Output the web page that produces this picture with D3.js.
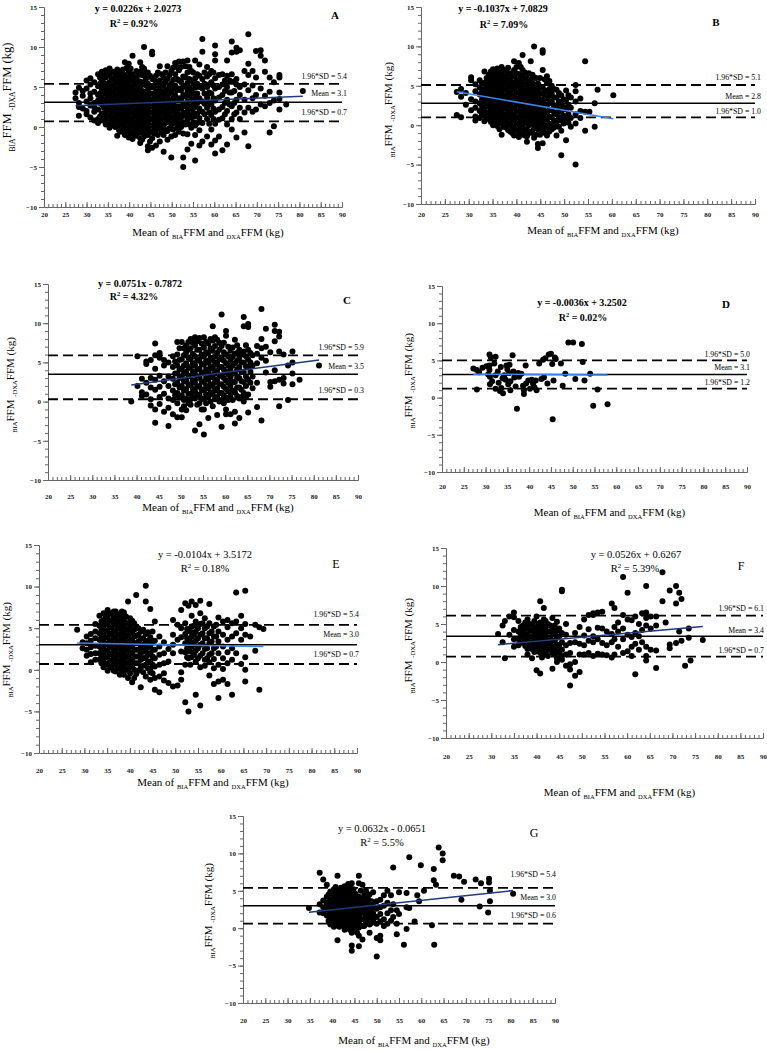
<!DOCTYPE html>
<html>
<head>
<meta charset="utf-8">
<script src="https://cdn.jsdelivr.net/npm/d3@7"></script>
<style>
  body { margin: 0; background: #fff; }
  svg { display: block; }
  text { font-family: "Liberation Serif", "Times New Roman", serif; }
</style>
</head>
<body>
<svg id="chart" width="767" height="1051"></svg>
<script>
// ---- data ----
let panelIds = ['A', 'B', 'C', 'D', 'E', 'F', 'G']
let slopes = [0.0226, -0.1037, 0.0751, -0.0036, -0.0104, 0.0526, 0.0632]
let intercepts = [2.0273, 7.0829, -0.7872, 3.2502, 3.5172, 0.6267, -0.0651]
let r2Labels = ['0.92%', '7.09%', '4.32%', '0.02%', '0.18%', '5.39%', '5.5%']
let meanDiff = [3.1, 2.8, 3.5, 3.1, 3.0, 3.4, 3.0]
let upperLoA = [5.4, 5.1, 5.9, 5.0, 5.4, 6.1, 5.4]
let lowerLoA = [0.7, 1.0, 0.3, 1.2, 0.7, 0.7, 0.6]
let xTickVals = [20, 25, 30, 35, 40, 45, 50, 55, 60, 65, 70, 75, 80, 85, 90]
let yTickVals = [-10, -5, 0, 5, 10, 15]

// points as [mean, [differences...]]
let colsA = [[27.4,[4.3,3.6]],[28.2,[4.9,1.4,3.0,2.5]],[29.1,[4.5,3.9,2.3]],[30.0,[5.8,3.2,2.0,4.8,1.6]],
[30.9,[6.1,5.3,3.6,2.7,1.2,4.2]],[31.8,[5.6,4.4,3.0,1.9,0.8,2.5]],[32.7,[6.6,5.1,4.0,3.3,2.2,1.0,0.5]],
[33.6,[6.9,5.8,4.6,3.7,2.8,1.7,0.8,5.2]],[34.5,[7.1,6.2,5.0,4.2,3.4,2.6,1.8,1.0,0.3]],
[35.4,[7.3,6.5,5.6,4.8,4.0,3.1,2.3,1.4,0.6,-0.1]],[36.3,[6.9,6.0,5.2,4.4,3.6,2.8,2.0,1.2,0.4]],
[37.2,[7.2,6.4,5.6,4.8,4.0,3.2,2.4,1.6,0.8,0.0,-1.1]],[38.1,[6.7,5.9,5.1,4.3,3.5,2.7,1.9,1.1,0.3,-0.6]],
[39.0,[8.1,6.5,5.7,4.9,4.1,3.3,2.5,1.7,0.9,0.1,-1.0]],[39.9,[7.9,7.0,6.2,5.4,4.6,3.8,3.0,2.2,1.4,0.6,-0.2,-1.3]],
[40.8,[8.9,6.6,5.8,5.0,4.2,3.4,2.6,1.8,1.0,0.2,-0.6,-1.5]],[41.7,[7.0,6.1,5.3,4.5,3.7,2.9,2.1,1.3,0.5,-0.3,-1.1]],
[42.6,[8.1,6.9,5.7,4.9,4.1,3.3,2.5,1.7,0.9,0.1,-0.7,-1.4,-2.0]],[43.5,[10.0,7.3,6.4,5.6,4.4,3.6,2.8,2.0,1.2,0.4,-0.4,-1.2]],
[44.4,[6.8,5.4,4.6,3.8,3.0,2.2,1.4,0.6,-0.2,-1.0,-2.9,-2.4]],[45.4,[9.4,9.1,6.0,5.0,4.2,3.4,2.6,1.8,1.0,0.2,-0.6,-1.4,-2.6]],
[46.3,[6.4,5.5,4.4,3.6,2.8,2.0,1.2,0.4,-0.4,-2.3]],[47.2,[7.6,5.8,4.8,3.9,3.0,2.2,1.4,0.6,-0.2,-1.8]],
[48.1,[6.2,5.2,4.2,3.4,2.6,1.8,0.9,0.0,-1.0,-3.1]],[49.0,[7.6,6.0,4.6,3.8,2.9,2.0,1.1,-0.5,-1.6]],
[49.9,[7.0,5.4,4.3,3.2,2.3,1.2,0.3,-1.2,-3.8]],[50.8,[8.0,6.6,5.2,4.0,2.6,1.5,0.5,-1.0]],
[51.7,[8.2,7.1,5.8,4.8,3.6,2.6,1.5,0.5,-0.6]],[52.7,[8.2,6.3,5.1,4.0,2.9,1.8,0.6,-0.8,-3.8,-5.0]],
[53.7,[8.3,6.8,5.5,4.4,3.2,2.0,0.9,-0.9,-2.8]],[54.6,[7.0,5.8,4.6,3.4,2.3,1.2,-0.1,-2.1]],
[55.5,[8.3,6.1,4.9,3.7,2.5,1.3,0.2,-1.0,-4.2]],[56.5,[7.8,6.4,5.0,3.6,2.3,1.1,-0.4,-2.3]],
[57.2,[11.0,9.4,6.0,4.8,3.2,1.9,0.5,-1.8]],[58.3,[7.5,6.3,5.0,3.7,2.4,1.0,-1.2]],
[59.3,[7.0,5.6,4.2,2.8,1.5,-0.3,-2.2]],[60.2,[10.2,9.1,8.3,6.1,4.8,3.3,1.9,0.4,-1.7,-3.3]],
[61.1,[6.5,5.0,3.7,2.2,0.9,-1.2]],[61.9,[6.6,5.3,4.0,2.5,1.1,-2.9]],[63.0,[8.3,6.4,5.0,3.4,2.0,0.3,-2.2]],
[64.1,[10.7,9.3,6.6,4.3,2.6,1.0,-0.3]],[65.2,[9.9,9.4,6.0,5.3,3.4,1.8,-1.3]],[66.0,[9.6,5.0,4.0,2.4,1.0]],
[67.1,[7.0,5.3,3.4,1.8,-0.7]],[68.0,[11.6,7.9,6.5,4.6,2.4,-2.4]],[69.0,[7.0,5.2,3.6,1.9]],
[69.8,[9.5,6.2,4.0,2.2]],[70.9,[9.6,8.9,4.8,2.8]],[71.9,[8.3,6.9,3.9,2.6]],[73.0,[6.2,4.4,3.0,-0.7]],
[74.0,[5.6,3.3,0.1]],[75.3,[6.5,6.2,4.3,3.5,2.2]],[76.9,[2.8]],[80.8,[4.5]]]
let fillA = [[33.15,[6.2,5.4,4.2,3.0,1.3]],[34.05,[6.5,5.5,4.5,3.3,2.4,1.2]],[34.95,[6.6,5.4,4.6,3.8,3.0,2.2,1.4,0.6]],
[35.85,[6.9,6.1,5.2,4.4,3.6,2.7,1.9,1.0,0.2]],[36.75,[6.6,5.6,4.8,4.0,3.2,2.4,1.6,0.8,0.0]],
[37.65,[6.8,6.0,5.2,4.4,3.6,2.8,2.0,1.2,0.4,-0.4]],[38.55,[7.2,6.3,5.5,4.7,3.9,3.1,2.3,1.5,0.7,-0.2]],
[39.45,[7.4,6.1,5.3,4.5,3.7,2.9,2.1,1.3,0.5,-0.6]],[40.35,[7.3,6.6,5.8,5.0,4.2,3.4,2.6,1.8,1.0,0.2,-0.8]],
[41.25,[6.2,5.4,4.6,3.8,3.0,2.2,1.4,0.6,-0.2,-1.0]],[42.15,[6.5,5.7,4.9,4.1,3.3,2.5,1.7,0.9,0.1,-0.7]],
[43.05,[7.5,6.5,5.3,4.5,3.7,2.9,2.1,1.3,0.5,-0.3,-1.6]],[43.95,[6.8,6.0,5.2,4.0,3.2,2.4,1.6,0.8,0.0,-0.8]],
[44.9,[6.4,5.0,4.2,3.4,2.6,1.8,1.0,0.2,-0.6,-1.8]],[45.85,[5.9,5.0,4.0,3.2,2.4,1.6,0.8,0.0,-0.8]],
[46.75,[6.8,5.2,4.4,3.4,2.6,1.8,1.0,0.2,-1.0]],[47.65,[6.6,5.4,4.4,3.6,2.6,1.8,1.0,0.2,-0.6]],
[48.55,[6.8,5.6,4.6,3.8,3.0,2.2,1.4,0.5,-0.4]],[49.45,[6.5,5.0,4.2,3.4,2.5,1.6,0.7,-0.2]],
[50.35,[7.4,5.9,4.8,3.6,2.9,2.0,0.9,-0.3]],[51.25,[7.5,6.0,4.6,3.3,2.0,1.0,-0.1]],
[52.2,[7.5,5.7,4.6,3.4,2.3,1.2,0.0]],[53.2,[7.6,6.2,5.0,3.8,2.6,1.4,0.3]],[54.15,[7.5,6.0,4.9,3.9,2.6,1.5,0.3]],
[55.05,[6.8,5.4,4.2,3.0,1.8,0.6]],[56.0,[6.6,5.4,4.2,3.0,1.7,0.5]],[57.7,[6.8,5.4,4.2,2.9,1.6]],
[58.8,[6.6,5.3,4.3,3.1,1.8,0.4]],[59.8,[6.8,5.2,3.6,2.3,1.0]],[62.5,[5.8,4.5,3.0,1.6]],
[63.6,[5.8,4.3,2.8]],[64.7,[5.7,4.5,3.0,1.6]]]

let colsB = [[27.5,[4.2,1.3]],[28.4,[4.6,3.6,1.0]],[29.4,[4.1,2.6]],[30.5,[6.1,5.7,3.3,1.9]],
[31.4,[5.2,4.3,3.0,2.2,1.1,0.6]],[32.3,[5.7,4.8,3.9,2.8,1.8,0.9]],[33.3,[6.8,5.4,4.6,3.7,2.9,2.0,1.2,0.5]],
[34.2,[6.4,5.6,4.8,4.0,3.2,2.4,1.6,0.8]],[35.1,[7.1,6.3,5.5,4.7,3.9,3.1,2.3,1.5,0.7,0.0]],
[36.0,[7.2,6.5,5.7,4.9,4.1,3.3,2.5,1.7,0.9,-0.1]],[36.9,[7.4,6.6,5.8,5.0,4.2,3.4,2.6,1.8,1.0,0.2,-1.2]],
[37.8,[6.9,6.1,5.3,4.5,3.7,2.9,2.1,1.3,0.5,-0.3]],[38.7,[6.6,5.8,5.0,4.2,3.4,2.6,1.8,1.0,0.2,-0.8]],
[39.5,[8.1,7.0,6.2,5.4,4.6,3.8,3.0,2.2,1.4,0.6,-0.4,-1.3]],[40.5,[7.9,6.5,5.7,4.9,4.1,3.3,2.5,1.7,0.9,0.1,-0.9,-1.5]],
[41.3,[8.9,7.0,6.3,5.5,4.7,3.9,3.1,2.3,1.5,0.7,-0.1,-1.0]],[42.2,[6.0,5.2,4.4,3.6,2.8,2.0,1.2,0.4,-0.6,-1.4,-2.1]],
[43.0,[8.1,5.8,5.0,4.2,3.4,2.6,1.8,1.0,0.2,-0.8]],[43.7,[10.0,6.1,4.6,3.8,3.0,2.2,1.4,0.6,-0.4,-1.6]],
[44.5,[5.3,4.5,3.7,2.9,2.1,1.3,0.5,-0.5,-2.4,-2.9]],[45.5,[9.5,9.2,7.0,4.8,4.0,3.1,2.2,1.3,0.4,-0.6,-2.3]],
[46.4,[6.2,5.4,4.3,3.4,2.5,1.6,0.7,-0.3,-1.3]],[47.4,[5.0,4.0,3.0,2.0,1.0,0.0,-0.5]],
[48.4,[4.5,3.5,2.4,1.4,0.3,-1.3]],[49.4,[3.8,2.7,1.7,0.6,-0.7,-3.8]],[50.4,[4.4,3.2,2.0,0.8,-1.9]],
[51.4,[3.5,2.2,0.9,-0.2]],[52.4,[5.1,4.3,3.0,1.4,0.2,-5.0]],[53.4,[3.4,1.8,0.9]],[54.4,[8.1,1.7,-0.7]],
[55.3,[1.7]],[56.4,[2.8,-0.2]],[57.0,[4.5]],[60.3,[3.8]]]
let fillB = [[32.8,[5.3,4.3,3.3,2.3,1.4]],[33.75,[6.0,5.0,4.2,3.3,2.5,1.6,0.9]],[34.65,[6.8,6.0,5.2,4.4,3.6,2.8,2.0,1.2,0.4]],
[35.55,[6.7,5.9,5.1,4.3,3.5,2.7,1.9,1.1,0.3]],[36.45,[6.9,6.1,5.3,4.5,3.7,2.9,2.1,1.3,0.5,-0.5]],
[37.35,[7.0,6.2,5.4,4.6,3.8,3.0,2.2,1.4,0.6,-0.2]],[38.25,[7.3,6.5,5.7,4.9,4.1,3.3,2.5,1.7,0.9,0.1,-0.6]],
[39.1,[6.2,5.4,4.6,3.8,3.0,2.2,1.4,0.6,-0.2,-1.0]],[40.0,[7.4,6.6,5.8,5.0,4.2,3.4,2.6,1.8,1.0,0.2,-0.6]],
[40.9,[7.4,6.1,5.3,4.5,3.7,2.9,2.1,1.3,0.5,-0.3,-1.2]],[41.75,[6.7,5.9,5.1,4.3,3.5,2.7,1.9,1.1,0.3,-0.5,-1.3]],
[42.6,[6.6,5.6,4.8,4.0,3.2,2.4,1.6,0.8,0.0,-1.0]],[43.35,[6.4,5.4,4.6,3.4,2.6,1.8,1.0,0.2,-1.0]],
[44.1,[6.0,5.0,4.2,3.4,2.6,1.8,1.0,0.0,-1.2]],[44.95,[6.0,4.9,4.1,3.3,2.5,1.7,0.9,0.0,-1.2]],
[45.95,[5.8,4.4,3.6,2.7,1.8,0.9,0.0,-1.0]],[46.9,[5.6,4.6,3.7,2.8,1.9,1.1,0.2,-0.8]],
[47.9,[4.6,3.5,2.5,1.6,0.6,-0.3]],[48.9,[4.1,3.0,2.0,1.0,-0.2]],[49.9,[3.3,2.3,1.2,0.2]],[50.9,[3.8,2.6,1.4,0.3]]]

let colsC = [[38.8,[0.0]],[40.2,[5.8,2.0]],[41.2,[2.9,1.2,0.7]],[42.2,[5.1,4.8,2.4,0.9]],[43.2,[5.3,3.0,1.8,0.3,-0.5]],
[44.2,[7.4,5.9,4.2,2.8,1.5,-1.0,-2.7]],[45.2,[6.2,5.6,3.3,1.9,0.6,-0.3]],[46.2,[5.3,4.6,2.6,1.0,-1.3]],
[47.2,[5.0,3.2,2.0,0.4,-0.8,-3.1]],[48.2,[5.8,4.4,2.9,1.4,0.2,-1.6]],[49.2,[7.6,6.0,4.6,3.6,2.4,1.1,-0.2,-2.0]],
[50.2,[7.6,5.4,4.2,3.1,2.0,0.8,-1.0,-2.0]],[51.2,[7.2,6.3,4.9,3.8,2.7,1.6,0.4,-1.1]],
[52.2,[8.0,6.8,5.4,4.3,3.2,2.1,1.0,0.3,-0.4]],[53.2,[8.2,7.2,5.8,4.6,3.5,2.4,1.3,0.4,-3.7]],
[54.2,[8.1,6.6,5.4,4.2,3.1,2.0,0.9,-0.2,-2.9]],[55.2,[8.2,6.9,5.8,4.7,3.6,2.5,1.4,0.3,-1.0,-4.2]],
[56.2,[7.4,6.2,5.0,3.9,2.8,1.7,0.6,-2.1]],[57.2,[9.6,7.8,6.5,5.3,4.2,3.1,2.0,0.9,-0.6]],
[58.2,[7.9,6.2,5.0,3.9,2.8,1.7,0.6,-1.7]],[59.2,[11.1,7.1,5.6,4.4,3.3,2.2,1.1,0.2,-3.2]],
[60.2,[9.0,8.4,6.0,4.9,3.8,2.7,1.6,0.5,-1.0,-1.6]],[61.2,[6.5,5.3,4.2,3.1,2.0,0.7,-1.6]],
[62.2,[7.9,6.1,4.9,3.6,2.5,1.2,-1.3,-2.8]],[63.2,[6.6,5.6,4.4,3.0,1.8,0.4,-2.1]],
[64.2,[10.8,9.6,6.4,5.0,3.8,2.5,1.1,0.0]],[65.2,[9.9,9.5,6.6,5.4,4.4,2.8,0.9,-1.4]],[66.2,[5.9,4.6,3.2,1.7]],
[67.2,[7.1,6.1,4.9,2.4,-0.7]],[68.2,[11.8,8.0,6.8,5.6,-2.4]],[69.2,[9.3,7.0,5.2,3.7]],[70.2,[6.3,2.5,1.9]],
[71.2,[9.8,9.0,7.7,4.0,2.6]],[72.2,[8.9,8.3,6.4,2.8,-0.6]],[73.2,[6.0,3.0,2.3]],[74.2,[4.6,0.2]],
[75.2,[6.4,5.0,3.6,2.2]],[76.8,[2.8]],[81.2,[4.6]]]
let fillC = [[48.7,[5.1,3.6,2.2,0.8]],[49.7,[6.8,5.3,4.1,3.0,1.8,0.5]],[50.7,[6.8,5.9,4.6,3.6,2.6,1.4,0.2,-0.6]],
[51.7,[7.6,6.6,5.6,4.4,3.3,2.2,1.0,-0.2]],[52.7,[7.5,6.1,4.9,3.8,2.7,1.6,0.6]],
[53.7,[7.7,6.6,5.2,4.1,3.0,1.9,0.8,-0.4]],[54.7,[7.4,6.0,4.8,3.7,2.6,1.5,0.4,-1.0]],
[55.7,[7.6,6.3,5.2,4.1,3.0,2.0,0.9,-0.2]],[56.7,[8.0,6.8,5.6,4.5,3.4,2.2,1.2,0.0]],
[57.7,[8.2,7.1,5.8,4.7,3.6,2.5,1.4,0.3]],[58.7,[7.5,6.6,5.4,4.4,3.3,2.2,1.1,0.0]],
[59.7,[7.5,6.3,5.2,4.1,3.0,1.9,0.8,-0.2]],[60.7,[7.0,5.8,4.6,3.5,2.4,1.3,0.2]],
[61.7,[6.9,5.7,4.6,3.6,2.5,1.4,0.2]],[62.7,[7.2,6.2,5.2,4.1,3.0,1.8,0.7]],[63.7,[6.0,5.0,3.8,2.6,1.5,0.6]],
[64.7,[7.2,5.8,4.5,3.2,2.0,0.6]],[65.7,[6.2,5.0,3.8,2.4]]]

let colsD = [[27.2,[3.9]],[28.0,[3.7,1.1]],[28.5,[3.4]],[29.3,[4.0]],[30.2,[4.2]],[30.6,[3.1]],[30.9,[5.8,4.3,3.7]],
[31.0,[2.8,1.8]],[31.2,[5.4]],[31.5,[2.2]],[32.0,[4.6]],[32.3,[5.5,3.0,1.2]],[32.8,[3.5]],[33.0,[2.0]],
[33.3,[0.9]],[33.5,[4.1]],[33.6,[1.3]],[33.9,[2.6]],[34.0,[0.6]],[34.3,[3.0]],[34.6,[2.4]],[34.8,[4.3]],
[35.0,[3.8]],[35.2,[1.8]],[35.4,[3.3]],[35.5,[4.4]],[35.7,[2.2,1.0]],[36.2,[5.7]],[36.4,[3.5]],[36.6,[2.7]],
[36.9,[1.5]],[37.2,[-1.5]],[37.5,[3.3]],[37.7,[2.8]],[38.2,[3.2]],[38.6,[1.6]],[38.8,[0.5,1.0]],[39.2,[4.3]],
[39.3,[1.9]],[39.8,[2.3]],[40.2,[1.2]],[40.6,[2.4]],[40.9,[1.9]],[41.2,[1.4]],[41.5,[2.3]],[41.7,[1.0]],
[42.3,[4.6]],[42.8,[2.5]],[43.2,[5.1]],[43.4,[2.7]],[43.7,[5.3]],[44.2,[1.9]],[44.5,[5.8]],[45.0,[5.9]],
[45.3,[4.5]],[45.4,[-2.9]],[45.6,[2.3]],[45.9,[5.4]],[46.1,[5.2]],[47.3,[4.6]],[47.7,[1.6]],[48.3,[3.2]],
[49.0,[7.4]],[50.1,[7.4]],[50.6,[2.5]],[52.1,[7.2]],[52.3,[4.8]],[52.7,[2.3]],[54.0,[3.2]],[54.7,[-1.1]],
[55.7,[1.1]],[58.0,[-0.9]]]
let fillD = []

let colsE = [[28.4,[4.8]],[29.6,[3.3,2.6]],[30.5,[4.0,3.2,2.4,1.7]],[31.4,[4.3,3.5,2.7,1.9,0.9]],
[32.4,[5.5,4.6,3.8,2.9,2.0,1.2]],[33.3,[6.5,5.3,4.4,3.6,2.8,2.0,1.2]],[34.2,[6.8,6.0,5.1,4.3,3.5,2.7,1.9,1.1,0.3]],
[35.1,[7.2,6.3,5.5,4.7,3.9,3.1,2.3,1.5,0.7,-0.1]],[36.0,[6.7,5.9,5.1,4.3,3.5,2.7,1.9,1.1,0.3]],
[36.9,[7.0,6.2,5.4,4.6,3.8,3.0,2.2,1.4,0.6,-0.2]],[37.8,[6.6,5.8,5.0,4.2,3.4,2.6,1.8,1.0,0.2,-0.6]],
[38.7,[6.9,6.0,5.2,4.4,3.6,2.8,2.0,1.2,0.4,-0.6]],[39.6,[8.2,5.6,4.8,4.0,3.2,2.4,1.6,0.8,0.0,-1.0]],
[40.5,[5.9,4.5,3.6,2.8,2.0,1.2,0.4,-1.5]],[41.4,[9.0,5.2,4.1,3.2,2.4,1.6,0.8,-0.5]],
[42.4,[4.6,3.7,2.8,2.0,1.2,0.3,-2.1]],[43.5,[10.1,8.2,4.3,3.3,2.4,1.5,0.6,-0.8]],
[44.5,[7.3,3.9,2.9,2.0,1.0,0.0,-0.3,-1.2]],[45.5,[5.8,3.5,2.4,1.4,0.4,-1.0,-2.4]],
[46.5,[4.0,2.8,1.8,0.6,-0.8,-2.7]],[47.5,[3.3,2.0,0.8,-0.4,-1.3]],[48.5,[2.5,1.0,-1.6]],
[49.5,[6.0,4.2,3.0,2.0,-2.0]],[50.5,[5.4,3.6,-1.9]],[51.3,[7.2,5.0,3.9,2.2,-0.3,-1.2]],
[52.2,[8.0,5.6,4.3,3.2,2.1,0.6,-3.9]],[52.9,[7.7,3.7,1.4,-5.0]],[53.6,[8.2,6.5,5.2,4.0,2.8,1.5]],
[54.5,[7.8,5.8,4.6,3.5,2.3,1.0,-3.0]],[55.5,[8.3,6.8,5.5,4.2,3.0,1.7,0.3,-4.3]],[56.5,[6.2,5.0,3.8,2.5,1.2,0.5]],
[57.5,[7.9,5.6,4.4,3.2,1.8,0.9,-0.7]],[58.5,[5.2,4.0,2.6,1.3,0.2,-1.7]],[59.5,[6.3,4.6,3.4,2.0,0.6,-1.4,-3.4]],
[60.5,[5.8,4.2,2.8,1.4,0.1,-1.2]],[61.5,[6.0,5.1,3.6,2.1,0.8,-1.7]],[62.5,[5.6,4.0,2.6,1.2,-3.0]],
[63.4,[9.3,5.8,4.4,2.0]],[64.5,[6.5,5.0,3.6,0.7]],[65.4,[9.5,5.5,4.2,1.5,0.0,-1.4]],[66.5,[4.0]],
[67.6,[5.4,2.3]],[68.5,[5.1,-2.4]],[69.4,[4.9]]]
let fillE = [[33.75,[5.8,4.9,4.0,3.2,2.4,1.6,0.8]],[34.65,[6.5,5.6,4.7,3.9,3.1,2.3,1.5,0.7]],
[35.55,[6.8,5.9,5.1,4.3,3.5,2.7,1.9,1.1,0.3]],[36.45,[7.0,6.3,5.5,4.7,3.9,3.1,2.3,1.5,0.7,-0.1]],
[37.35,[6.6,5.8,5.0,4.2,3.4,2.6,1.8,1.0,0.2]],[38.25,[7.0,6.2,5.4,4.6,3.8,3.0,2.2,1.4,0.6,-0.2]],
[39.15,[6.4,5.6,4.8,4.0,3.2,2.4,1.6,0.8,0.0]],[40.05,[6.2,5.2,4.4,3.6,2.8,2.0,1.2,0.4,-0.4]],
[40.95,[5.6,4.8,4.0,3.2,2.4,1.6,0.8,0.0,-1.0]],[41.9,[5.0,4.2,3.4,2.4,1.6,0.8,-0.1]],
[42.95,[4.8,3.8,3.0,2.2,1.4,0.5,-0.3]],[44.0,[4.5,3.5,2.7,1.8,1.0,0.2]],[45.0,[4.6,3.4,2.4,1.6,0.6,-0.4]],
[52.6,[4.9,3.8,2.6,1.5]],[53.3,[4.6,3.4,2.2,0.6]],[54.1,[5.3,4.2,3.0,1.8]],[55.0,[5.0,3.8,2.6,1.4]],
[56.0,[5.6,4.4,3.2,2.0]],[57.0,[5.2,3.8,2.6,1.4]],[58.0,[4.6,3.4,2.0]],[59.0,[5.4,4.0,2.8]]]

let colsF = [[31.5,[3.7]],[32.5,[4.8,2.6]],[33.0,[5.4,0.5]],[34.0,[6.0,3.6]],[35.0,[6.5,5.9,4.2,3.0,2.0]],
[36.0,[5.4,4.0,3.0,2.2]],[37.0,[4.8,4.0,3.3,2.5]],[38.0,[5.6,4.5,3.7,2.9,2.1,1.7,1.0]],
[39.0,[4.9,4.1,3.3,2.5,1.7,0.5]],[40.0,[6.0,4.6,3.8,3.0,2.2,1.4,-1.1]],[40.8,[8.0,5.2,4.4,3.6,2.8,2.0,1.2,-1.5]],
[41.6,[7.1,5.6,4.3,3.5,2.7,1.9,1.1]],[42.5,[5.0,4.0,3.2,2.4,1.6,0.8]],[43.5,[5.8,4.4,3.6,2.8,2.0,1.2,-0.9]],
[44.5,[5.3,4.1,3.2,2.3,1.4,0.5,0.0]],[45.6,[9.5,9.3,3.8,2.6,1.6,0.8,0.3]],[46.5,[5.0,3.6,2.2,1.0,-0.5]],
[47.4,[2.5,1.2,-0.3,-1.0,-3.1]],[48.5,[3.8,2.6,0.0,-1.8]],[49.5,[4.6,2.4,1.0,-1.3]],[50.5,[5.6,3.5,2.2,1.0]],
[51.5,[6.2,4.3,2.8,1.2]],[52.5,[6.4,6.2,3.4,2.6,0.8]],[53.5,[6.5,4.5,3.0,1.1]],[54.5,[6.6,4.4,2.5,1.0]],
[55.5,[4.0,2.2,0.9]],[56.6,[7.7,3.7,2.6,0.6]],[57.2,[7.1,4.6,3.0,1.0]],[58.0,[5.2,4.0,2.0]],
[59.1,[11.2,6.2,4.4,3.0,1.2]],[60.1,[9.1,5.6,3.6,1.4]],[61.0,[5.5,3.3,2.0,0.8]],[61.8,[6.0,3.8,2.4,-1.6]],
[62.6,[5.0,3.4,1.6]],[63.3,[6.4,4.2,2.6]],[64.2,[10.0,6.5,5.8,4.8,2.0,0.8,0.2]],[65.2,[6.0,4.4,1.6]],
[66.4,[6.0,4.8,1.5,-0.8]],[67.8,[11.8,8.0]],[68.5,[5.2]],[69.4,[9.4,2.3,1.8]],[70.8,[10.0,7.7,2.5]],
[71.5,[9.1,4.0]],[72.0,[8.3,2.8]],[72.8,[-0.5]],[73.6,[4.4,3.2]],[74.0,[0.2]],[76.7,[2.9]]]
let fillF = [[36.5,[4.6,3.6,2.6]],[37.5,[5.2,4.4,3.6,2.9,2.1]],[38.5,[5.0,4.2,3.4,2.6,1.8]],
[39.5,[5.4,4.5,3.7,2.9,2.1,1.3]],[40.4,[5.0,4.2,3.4,2.6,1.8]],[41.2,[4.8,4.0,3.2,2.4,1.6,0.6]],
[42.0,[5.4,4.6,3.6,2.8,2.0,1.2]],[43.0,[4.8,4.0,3.2,2.4,1.6]],[44.0,[4.8,3.8,2.8,1.8,1.0]],[45.0,[4.4,3.4,2.1,1.2]]]

let colsG = [[34.8,[2.7]],[37.2,[7.4,3.2,2.1]],[38.0,[6.5,3.7,2.8,2.0]],[38.8,[5.8,4.2,3.3,2.5,1.7]],
[39.6,[4.9,3.8,3.0,2.2,1.4,0.5]],[40.4,[5.2,4.3,3.4,2.6,1.8,1.0,0.2]],[41.2,[7.0,4.8,4.0,3.1,2.3,1.5,0.7,-1.6]],
[42.0,[5.4,4.5,3.7,2.9,2.1,1.3,0.4]],[42.8,[5.6,4.8,4.0,3.2,2.4,1.6,0.8,-0.2]],[43.6,[5.9,5.1,4.3,3.5,2.7,1.9,1.1,0.3]],
[44.4,[6.0,5.0,4.2,3.4,2.6,1.8,1.0,0.2,-0.6,-2.3,-3.0]],[45.2,[4.6,3.8,3.0,2.2,1.4,0.6,-0.3]],
[46.0,[7.0,6.0,4.2,3.3,2.5,1.7,0.9,0.1,-1.0,-2.4]],[46.8,[5.8,3.9,3.0,2.1,1.2,0.3,-1.5]],
[47.6,[5.0,3.5,2.6,1.7,0.8]],[48.4,[4.5,3.3,2.4,1.4,0.5,-0.6]],[49.2,[4.8,3.0,2.0,1.0]],
[50.0,[3.6,2.6,1.5,0.6,-1.3,-3.8]],[50.8,[3.8,2.8,1.9,0.9,-1.0,-1.6]],[51.6,[4.4,3.0,1.2,0.3]],
[52.4,[5.0,3.4,2.0,0.6]],[53.2,[4.4,2.4,1.0]],[53.7,[8.1,3.2,1.5]],[54.5,[2.4,0.6,-0.8]],[55.0,[4.8,1.9]],
[56.1,[-2.2]],[56.7,[4.7,2.8,-0.1]],[57.3,[9.5,2.7]],[58.5,[0.9]],[59.1,[4.4]],[59.5,[3.6]],[59.9,[8.4]],
[60.6,[5.0]],[62.4,[0.4]],[62.8,[7.9,6.4]],[62.9,[-2.2]],[63.3,[5.8]],[63.9,[10.8]],[64.8,[10.0,9.1]],
[67.3,[7.0]],[68.5,[6.9]],[69.0,[3.8]],[69.6,[6.2]],[72.2,[6.5]],[73.1,[2.9]],[73.4,[6.0]],[75.0,[2.1]],
[75.2,[6.6,6.1]],[75.4,[5.0,3.6]],[80.6,[4.6]]]
let fillG = [[39.2,[4.5,3.5,2.6,1.8,1.0]],[40.0,[4.7,3.8,3.0,2.2,1.4,0.6]],[40.8,[5.5,4.4,3.6,2.8,2.0,1.2,0.4]],
[41.6,[5.0,4.2,3.4,2.6,1.8,1.0,0.2]],[42.4,[5.2,4.4,3.6,2.8,2.0,1.2,0.4]],[43.2,[5.5,4.6,3.8,3.0,2.2,1.4,0.6]],
[44.0,[5.4,4.6,3.8,3.0,2.2,1.4,0.6,-0.2]],[44.8,[5.2,4.4,3.6,2.8,2.0,1.2,0.4]],[45.6,[4.2,3.4,2.6,1.8,1.0,0.2,-0.6]],
[46.4,[5.0,3.6,2.8,2.0,1.2,0.4]],[47.2,[4.4,3.0,2.2,1.2,0.3]],[48.0,[4.0,2.8,1.9,1.0]],[48.8,[3.6,2.6,1.6,0.7]]]

let allCols = [colsA.concat(fillA), colsB.concat(fillB), colsC.concat(fillC), colsD.concat(fillD),
  colsE.concat(fillE), colsF.concat(fillF), colsG.concat(fillG)]

// ---- layout of the seven panels (pixels) ----
let navy = '#1f3b7a'
let blue = '#3d82ec'
let layout = [
  {x0:44, x1:342, yt:7, yb:207, eq:[138,12], r2:[134,27], let:[335,19], bold:true, lr:347, lo:[-5,-6,-6], xlp:5, xtt:236, ytx:11, ytm:97, yts:12.5, reg:navy},
  {x0:421, x1:755, yt:7, yb:204, eq:[503,12], r2:[504,28], let:[716,26], bold:true, lr:761, lo:[-5,-4,-3], xlp:8, xtt:234, ytx:392, ytm:110, yts:11, reg:blue},
  {x0:48, x1:358, yt:284, yb:480, eq:[140,287], r2:[134,300], let:[347,304], bold:true, lr:364, lo:[-5,-5,-6], xlp:14, xtt:511, ytx:14, ytm:385, yts:11, reg:navy},
  {x0:442, x1:747, yt:286, yb:472, eq:[582,306], r2:[583,321], let:[726,308], bold:true, lr:750, lo:[-3,-5,-4], xlp:12, xtt:516, ytx:412, ytm:381, yts:11, reg:blue},
  {x0:39, x1:357, yt:545, yb:753, eq:[205,558], r2:[205,572], let:[336,568], bold:false, lr:359, lo:[-8,-8,-7], xlp:15, xtt:786, ytx:10, ytm:650, yts:11, reg:blue},
  {x0:446, x1:763, yt:548, yb:738, eq:[636,558], r2:[635,572], let:[741,570], bold:false, lr:764, lo:[-5,-3,-4], xlp:16, xtt:796, ytx:412, ytm:646, yts:11, reg:navy},
  {x0:243, x1:555, yt:816, yb:1003, eq:[382,832], r2:[382,846], let:[534,837], bold:false, lr:556, lo:[-11,-6,-6], xlp:15, xtt:1044, ytx:212, ytm:911, yts:11, reg:navy}
]

let svg = d3.select('#chart')

// text with sub/superscript pieces
let richText = (g, parts, size, small) => {
  let t = g.append('text').attr('font-size', size)
  let shift = 0
  parts.forEach(([s, kind]) => {
    let target = kind === 'sub' ? size * 0.3 : kind === 'sup' ? -size * 0.4 : 0
    t.append('tspan').attr('dy', target - shift).attr('font-size', kind ? small : size).text(s)
    shift = target
  })
  return t
}

let styleAxis = (sel) => {
  sel.selectAll('path, line').attr('stroke', '#666').attr('stroke-width', 1)
  sel.selectAll('text')
    .attr('font-family', '"Liberation Serif", serif')
    .attr('font-weight', 'bold')
    .attr('font-size', 7)
    .attr('fill', '#222')
}

panelIds.forEach((id, i) => {
  let L = layout[i]
  let pts = []
  allCols[i].forEach(c => c[1].forEach(v => pts.push([c[0], v])))

  let x = d3.scaleLinear().domain([20, 90]).range([L.x0, L.x1])
  let y = d3.scaleLinear().domain([-10, 15]).range([L.yb, L.yt])
  let g = svg.append('g').attr('class', 'panel-' + id)

  // axes: minor ticks every 1, major every 5
  g.append('g').attr('transform', `translate(${L.x0},0)`)
    .call(d3.axisLeft(y).tickValues(d3.range(-10, 16)).tickSize(3).tickSizeOuter(0).tickFormat(''))
    .call(styleAxis)
  g.append('g').attr('transform', `translate(${L.x0},0)`)
    .call(d3.axisLeft(y).tickValues(yTickVals).tickSize(5).tickSizeOuter(0).tickPadding(2))
    .call(styleAxis)
  g.append('g').attr('transform', `translate(0,${L.yb})`)
    .call(d3.axisBottom(x).tickValues(d3.range(20, 91)).tickSize(-3).tickSizeOuter(0).tickFormat(''))
    .call(styleAxis)
  g.append('g').attr('transform', `translate(0,${L.yb})`)
    .call(d3.axisBottom(x).tickValues(xTickVals).tickSize(-5).tickSizeOuter(0).tickPadding(L.xlp))
    .call(styleAxis)

  // points
  g.append('g').selectAll('circle')
    .data(pts)
    .join('circle')
    .attr('cx', d => x(d[0]))
    .attr('cy', d => y(d[1]))
    .attr('r', 3)
    .attr('fill', '#000')

  // mean and limits of agreement
  let refs = [
    [upperLoA[i], '1.96*SD = ' + upperLoA[i].toFixed(1), L.lo[0], true],
    [meanDiff[i], 'Mean = ' + meanDiff[i].toFixed(1), L.lo[1], false],
    [lowerLoA[i], '1.96*SD = ' + lowerLoA[i].toFixed(1), L.lo[2], true]
  ]
  refs.forEach(([v, label, off, dashed]) => {
    g.append('line')
      .attr('x1', x(20)).attr('x2', x(90))
      .attr('y1', y(v)).attr('y2', y(v))
      .attr('stroke', '#000')
      .attr('stroke-width', dashed ? 1.8 : 1.5)
      .attr('stroke-dasharray', dashed ? '10,5' : null)
    g.append('text')
      .attr('x', L.lr).attr('y', y(v) + off)
      .attr('text-anchor', 'end')
      .attr('font-size', 7.8)
      .text(label)
  })

  // regression line over the data range
  let ext = d3.extent(pts, d => d[0])
  g.append('line')
    .attr('x1', x(ext[0])).attr('y1', y(slopes[i] * ext[0] + intercepts[i]))
    .attr('x2', x(ext[1])).attr('y2', y(slopes[i] * ext[1] + intercepts[i]))
    .attr('stroke', L.reg)
    .attr('stroke-width', 1.5)

  // equation, R2 and panel letter
  let b = intercepts[i]
  let eq = 'y = ' + slopes[i].toFixed(4) + 'x ' + (b < 0 ? '- ' : '+ ') + Math.abs(b).toFixed(4)
  let eqSize = L.bold ? 10 : 10.5
  g.append('text')
    .attr('x', L.eq[0]).attr('y', L.eq[1])
    .attr('text-anchor', 'middle')
    .attr('font-size', eqSize)
    .attr('font-weight', L.bold ? 'bold' : 'normal')
    .text(eq)
  richText(g, [['R', ''], ['2', 'sup'], [' = ' + r2Labels[i], '']], eqSize, eqSize * 0.65)
    .attr('x', L.r2[0]).attr('y', L.r2[1])
    .attr('text-anchor', 'middle')
    .attr('font-weight', L.bold ? 'bold' : 'normal')
  g.append('text')
    .attr('x', L.let[0]).attr('y', L.let[1])
    .attr('text-anchor', 'middle')
    .attr('font-size', L.bold ? 11 : 12)
    .attr('font-weight', L.bold ? 'bold' : 'normal')
    .text(id)

  // axis titles
  richText(g, [['Mean of ', ''], ['BIA', 'sub'], ['FFM and ', ''], ['DXA', 'sub'], ['FFM (kg)', '']], 11, 6.5)
    .attr('x', (L.x0 + L.x1) / 2 + 15).attr('y', L.xtt)
    .attr('text-anchor', 'middle')
  richText(g, [['BIA', 'sub'], ['FFM ', ''], ['-DXA', 'sub'], ['FFM (kg)', '']], L.yts, L.yts * 0.6)
    .attr('transform', `translate(${L.ytx},${L.ytm}) rotate(-90)`)
    .attr('text-anchor', 'middle')
})
</script>
</body>
</html>
